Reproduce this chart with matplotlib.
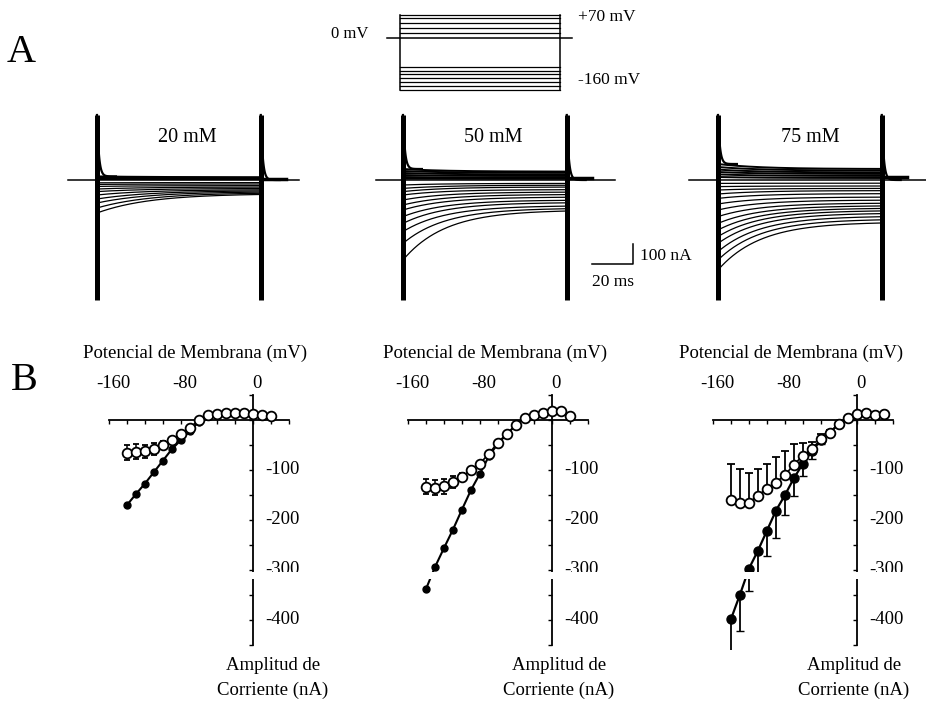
import numpy as np
import matplotlib.pyplot as plt
from matplotlib.patches import Rectangle

plt.rcParams['font.family'] = ['Liberation Serif', 'DejaVu Serif']

W, H = 926, 704

def fx(px):
    return px / W

def fy(py):
    return 1 - py / H

# ---------------- data ----------------
# panel B: membrane potential (mV) vs current (nA)
v_b12 = [-140, -130, -120, -110, -100, -90, -80, -70, -60, -50, -40, -30, -20, -10, 0, 10, 20]
v_b3 = [-140, -130, -120, -110, -100, -90, -80, -70, -60, -50, -40, -30, -20, -10, 0, 10, 20, 30]

peak_20 = [-170, -148, -127, -104, -81, -58, -40, -22, -3, 10, 13, 14, 14, 15, 12, 11, 8]
ss_20 = [-65, -63, -62, -58, -50, -40, -27, -15, 0, 10, 13, 14, 14, 15, 12, 11, 8]
ss_err_20 = [15, 15, 13, 12, 8, 5, 3, 0, 0, 0, 0, 0, 0, 0, 0, 0, 0]

peak_50 = [-338, -294, -256, -219, -179, -140, -107, -72, -47, -28, -10, 5, 10, 15, 18, 19, 8]
ss_50 = [-133, -135, -132, -123, -113, -100, -87, -67, -45, -27, -10, 5, 10, 15, 18, 19, 8]
ss_err_50 = [15, 15, 15, 12, 8, 5, 3, 0, 0, 0, 0, 0, 0, 0, 0, 0, 0]

peak_75 = [-398, -349, -297, -261, -221, -181, -150, -116, -87, -62, -40, -25, -7, 5, 13, 14, 11, 12]
peak_err_75 = [80, 72, 45, 50, 50, 55, 40, 35, 25, 15, 8, 5, 0, 0, 0, 0, 0, 0]
ss_75 = [-160, -165, -165, -151, -137, -125, -110, -89, -71, -58, -38, -25, -7, 5, 13, 14, 11, 12]
ss_err_75 = [73, 68, 60, 53, 50, 51, 49, 42, 25, 15, 10, 5, 0, 0, 0, 0, 0, 0]

x_ticks = [-160, -80, 0]
y_ticks = [-100, -200, -300, -400]

# panel A: current traces, start/end amplitude of each trace (nA)
pulse_ms = 78
a1_start = [-165, -140, -115, -95, -75, -58, -45, -32, -22, -14]
a1_end = [-68, -63, -58, -53, -48, -42, -35, -28, -20, -13]
a1_pos_start = [18, 13, 9, 5]
a1_pos_end = [14, 10, 7, 4]

a2_start = [-400, -317, -258, -217, -183, -150, -125, -100, -75, -58, -42, -25]
a2_end = [-150, -140, -128, -112, -100, -85, -72, -60, -48, -35, -26, -17]
a2_pos_start = [55, 45, 35, 25, 15, 7]
a2_pos_end = [42, 36, 28, 20, 12, 6]

a3_start = [-450, -400, -358, -317, -283, -250, -217, -183, -150, -120, -92, -70, -50, -33, -17]
a3_end = [-210, -195, -180, -165, -152, -140, -128, -115, -100, -85, -68, -53, -42, -30, -16]
a3_pos_start = [80, 65, 52, 40, 28, 15]
a3_pos_end = [55, 47, 38, 30, 20, 10]

tau_ms = [25, 20, 20]
baseline_ms = [(-14, 96), (-13, 101), (-14, 100)]
tail_amp = [4, 12, 14]
cap_range = (-600, 325)

# voltage protocol (mV)
steps_up = [70, 60, 45, 30, 15]
steps_down = [-90, -102, -112, -124, -136, -148, -160]

fig = plt.figure(figsize=(9.26, 7.04), dpi=100)

# ---------------- voltage protocol ----------------
axp = fig.add_axes([fx(380), fy(95), 200 / W, 85 / H])
axp.set_xlim(-9.76, 87.8)
axp.set_ylim(-175.5, 85.3)
axp.axis('off')
axp.plot([-6.3, pulse_ms + 6], [0, 0], color='black', lw=1.1)
for lev in steps_up + steps_down:
    axp.plot([0, pulse_ms], [lev, lev], color='black', lw=0.9)
for t in (0, pulse_ms):
    axp.plot([t, t], [min(steps_down), max(steps_up)], color='black', lw=1.1)
fig.text(fx(368), fy(34), '0 mV', ha='right', va='center', fontsize=12)
fig.text(fx(578), fy(17), '+70 mV', ha='left', va='center', fontsize=12.5)
fig.text(fx(578), fy(80), '-160 mV', ha='left', va='center', fontsize=12.5)

# ---------------- current traces ----------------
onsets = [97, 403, 718]
titles = ['20 mM', '50 mM', '75 mM']
title_px = [(187, 137), (493, 138), (810, 137)]
neg = [(a1_start, a1_end), (a2_start, a2_end), (a3_start, a3_end)]
pos = [(a1_pos_start, a1_pos_end), (a2_pos_start, a2_pos_end), (a3_pos_start, a3_pos_end)]

t = np.linspace(0, pulse_ms, 400)
for k in range(3):
    ax = fig.add_axes([fx(onsets[k] - 33.6), fy(310), 247.8 / W, 200 / H])
    ax.set_xlim(-16, 102)
    ax.set_ylim(-650, 350)
    ax.axis('off')
    b0, b1 = baseline_ms[k]
    ax.plot([b0, b1], [0, 0], color='black', lw=1.1)
    starts, ends = neg[k]
    for s, e in zip(starts, ends):
        ax.plot(t, e + (s - e) * np.exp(-t / tau_ms[k]), color='black', lw=0.9)
    ps, pe = pos[k]
    for s, e in zip(ps, pe):
        ax.plot(t, e + (s - e) * np.exp(-t / tau_ms[k]), color='black', lw=1.4)
    # tail after the pulse
    ax.plot([pulse_ms, pulse_ms + 12], [tail_amp[k], tail_amp[k]], color='black', lw=2.5)
    # capacitive transients
    tt = np.linspace(0, 9, 60)
    ax.plot(tt, ps[0] + (cap_range[1] - ps[0]) * np.exp(-tt / 0.9), color='black', lw=1.6)
    ax.plot(pulse_ms + tt, cap_range[1] * np.exp(-tt / 0.9), color='black', lw=1.6)
    for x in (0, pulse_ms):
        ax.plot([x, x], cap_range, color='black', lw=3.6, solid_capstyle='butt')
    fig.text(fx(title_px[k][0]), fy(title_px[k][1]), titles[k], ha='center', va='center',
             fontsize=14.5)
    if k == 1:
        ax.plot([90, 109.5, 109.5], [-420, -420, -320], color='black', lw=1.1, clip_on=False)

fig.text(fx(640), fy(256), '100 nA', ha='left', va='center', fontsize=12.5)
fig.text(fx(613), fy(282), '20 ms', ha='center', va='center', fontsize=12.5)

# ---------------- I-V curves ----------------
axis_x = [253, 552, 857]
name_px = [195, 495, 791]
amp_px = [273, 559, 854]
series = [
    (v_b12, peak_20, None, ss_20, ss_err_20, False),
    (v_b12, peak_50, None, ss_50, ss_err_50, False),
    (v_b3, peak_75, peak_err_75, ss_75, ss_err_75, True),
]

for k in range(3):
    ax = fig.add_axes([fx(axis_x[k] - 144), fy(650), 180 / W, 260 / H])
    ax.set_xlim(-160, 40)
    ax.set_ylim(-460, 60)
    ax.patch.set_alpha(0)
    for side in ('top', 'right'):
        ax.spines[side].set_visible(False)
    ax.spines['left'].set_position(('data', 0))
    ax.spines['bottom'].set_position(('data', 0))
    ax.spines['left'].set_bounds(-450, 50)
    ax.spines['bottom'].set_bounds(-160, 40)
    for side in ('left', 'bottom'):
        ax.spines[side].set_linewidth(1.3)
    ax.set_xticks(np.arange(-160, 41, 20))
    ax.set_yticks(np.arange(-450, 51, 50))
    ax.tick_params(direction='out', length=3, width=1, labelbottom=False, labelleft=False)

    v, pk, pk_err, ss, ss_err, one_sided = series[k]
    zero = np.zeros(len(v))
    if one_sided:
        ax.errorbar(v, pk, yerr=[pk_err, zero], fmt='-o', color='black', mfc='black',
                    ms=6.5, lw=1.6, capsize=3, elinewidth=1.3, zorder=3)
        ax.errorbar(v, ss, yerr=[zero, ss_err], fmt='-o', color='black', mfc='white',
                    mec='black', ms=7, mew=1.3, lw=1.2, capsize=3, elinewidth=1.3, zorder=4)
    else:
        ax.plot(v, pk, '-o', color='black', ms=5, lw=1.5, zorder=3)
        ax.errorbar(v, ss, yerr=ss_err, fmt='-o', color='black', mfc='white', mec='black',
                    ms=7, mew=1.3, lw=1.2, capsize=2.5, elinewidth=1.1, zorder=4)

    for xv in x_ticks:
        ax.annotate(str(xv), (xv, 0), xytext=(3, 26.5), textcoords='offset points',
                    ha='center', va='center', fontsize=13.5)
    for yv in y_ticks:
        ax.annotate(str(yv), (0, yv), xytext=(8.5, 0), textcoords='offset points',
                    ha='left', va='center', fontsize=13.5)
    # axis break
    ax.add_patch(Rectangle((-170, -318), 250, 14, facecolor='white', edgecolor='none',
                           zorder=10, clip_on=False))

    fig.text(fx(name_px[k]), fy(353), 'Potencial de Membrana (mV)', ha='center',
             va='center', fontsize=13.5)
    fig.text(fx(amp_px[k]), fy(666), 'Amplitud de', ha='center', va='center', fontsize=13.5)
    fig.text(fx(amp_px[k]), fy(690), 'Corriente (nA)', ha='center', va='center',
             fontsize=13.5)

fig.text(fx(21), fy(52), 'A', ha='center', va='center', fontsize=29)
fig.text(fx(24), fy(381), 'B', ha='center', va='center', fontsize=29)

fig.savefig('out.png', dpi=100)
